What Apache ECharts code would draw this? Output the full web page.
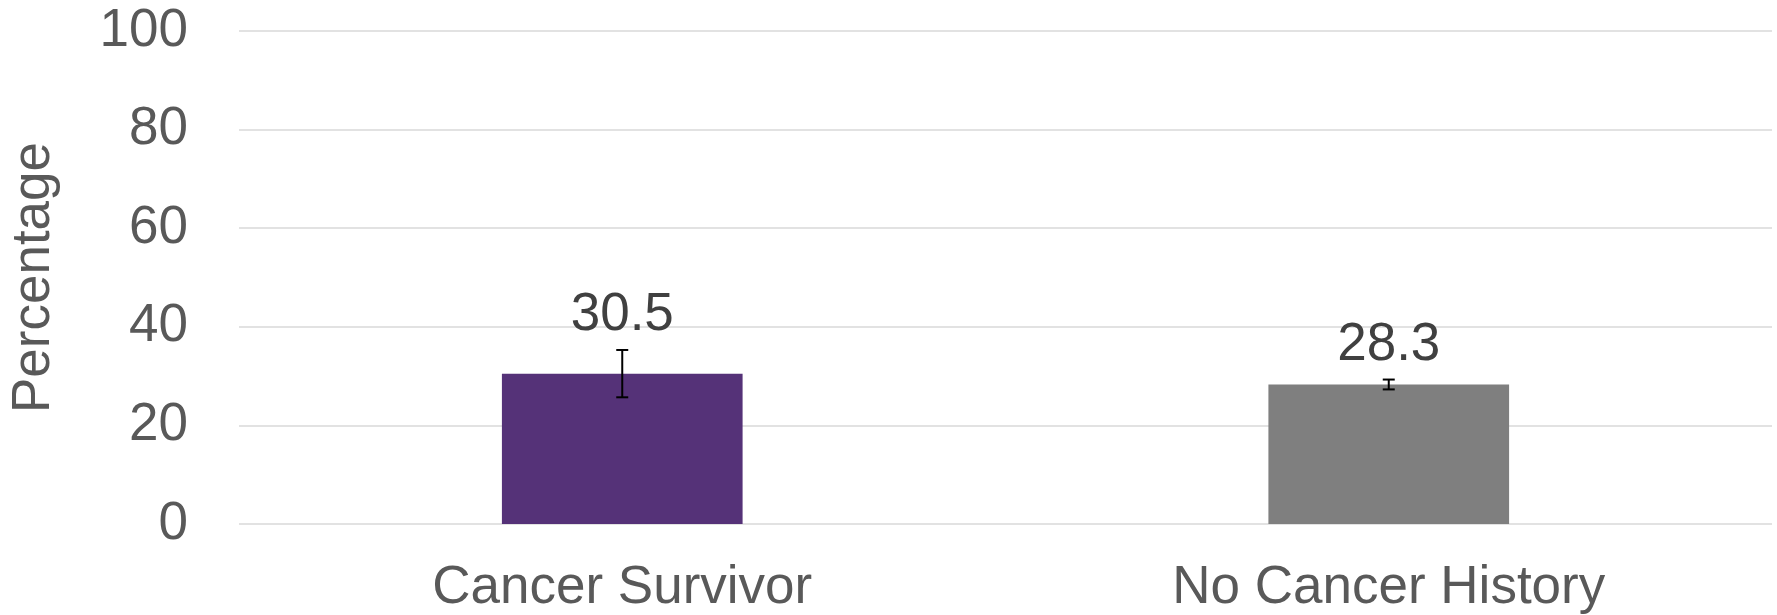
<!DOCTYPE html>
<html>
<head>
<meta charset="utf-8">
<script src="https://cdn.jsdelivr.net/npm/echarts@6/dist/echarts.min.js"></script>
<style>
  html, body { margin: 0; padding: 0; background: #fff; }
  #chart { width: 1777px; height: 615px; }
</style>
</head>
<body>
<div id="chart"></div>
<script>
var categories = ['Cancer Survivor', 'No Cancer History'];
var values = [30.5, 28.3];
var errLow = [25.7, 27.3];
var errHigh = [35.3, 29.3];
var barColors = ['#553278', '#7f7f7f'];
var yTicks = [0, 100, 20];

var font = 'Liberation Sans, Arial, sans-serif';
var myChart = echarts.init(document.getElementById('chart'));

var errData = categories.map(function (c, i) {
    return [i, errLow[i], errHigh[i], values[i]];
});

option = {
    animation: false,
    grid: { left: 237, right: 5, top: 31, bottom: 91 },
    xAxis: {
        type: 'category',
        data: categories,
        axisLine: { show: false },
        axisTick: { show: false },
        axisLabel: { color: '#595959', fontSize: 53, fontFamily: font, margin: 38 }
    },
    yAxis: {
        type: 'value',
        min: yTicks[0],
        max: yTicks[1],
        interval: yTicks[2],
        name: 'Percentage',
        nameLocation: 'middle',
        nameGap: 178,
        nameTextStyle: { color: '#595959', fontSize: 53, fontFamily: font },
        axisLine: { show: false },
        axisTick: { show: false },
        axisLabel: { color: '#595959', fontSize: 53, fontFamily: font, margin: 51 },
        splitLine: { lineStyle: { color: '#d9d9d9', width: 1.5 } }
    },
    series: [{
        type: 'bar',
        barWidth: '31.4%',
        data: values.map(function (v, i) {
            return { value: v, itemStyle: { color: barColors[i] } };
        })
    }, {
        type: 'custom',
        data: errData,
        renderItem: function (params, api) {
            var x = api.value(0);
            var lo = api.coord([x, api.value(1)]);
            var hi = api.coord([x, api.value(2)]);
            var cap = 6;
            var style = { stroke: '#000', lineWidth: 2 };
            return {
                type: 'group',
                children: [
                    { type: 'line', shape: { x1: lo[0], y1: lo[1], x2: hi[0], y2: hi[1] }, style: style },
                    { type: 'line', shape: { x1: lo[0] - cap, y1: lo[1], x2: lo[0] + cap, y2: lo[1] }, style: style },
                    { type: 'line', shape: { x1: hi[0] - cap, y1: hi[1], x2: hi[0] + cap, y2: hi[1] }, style: style },
                    {
                        type: 'text',
                        style: {
                            text: api.value(3).toFixed(1),
                            x: hi[0], y: hi[1] - 8,
                            align: 'center', verticalAlign: 'bottom',
                            fill: '#404040', fontSize: 53, fontFamily: font
                        }
                    }
                ]
            };
        },
        z: 10
    }]
};

myChart.setOption(option);
</script>
</body>
</html>
